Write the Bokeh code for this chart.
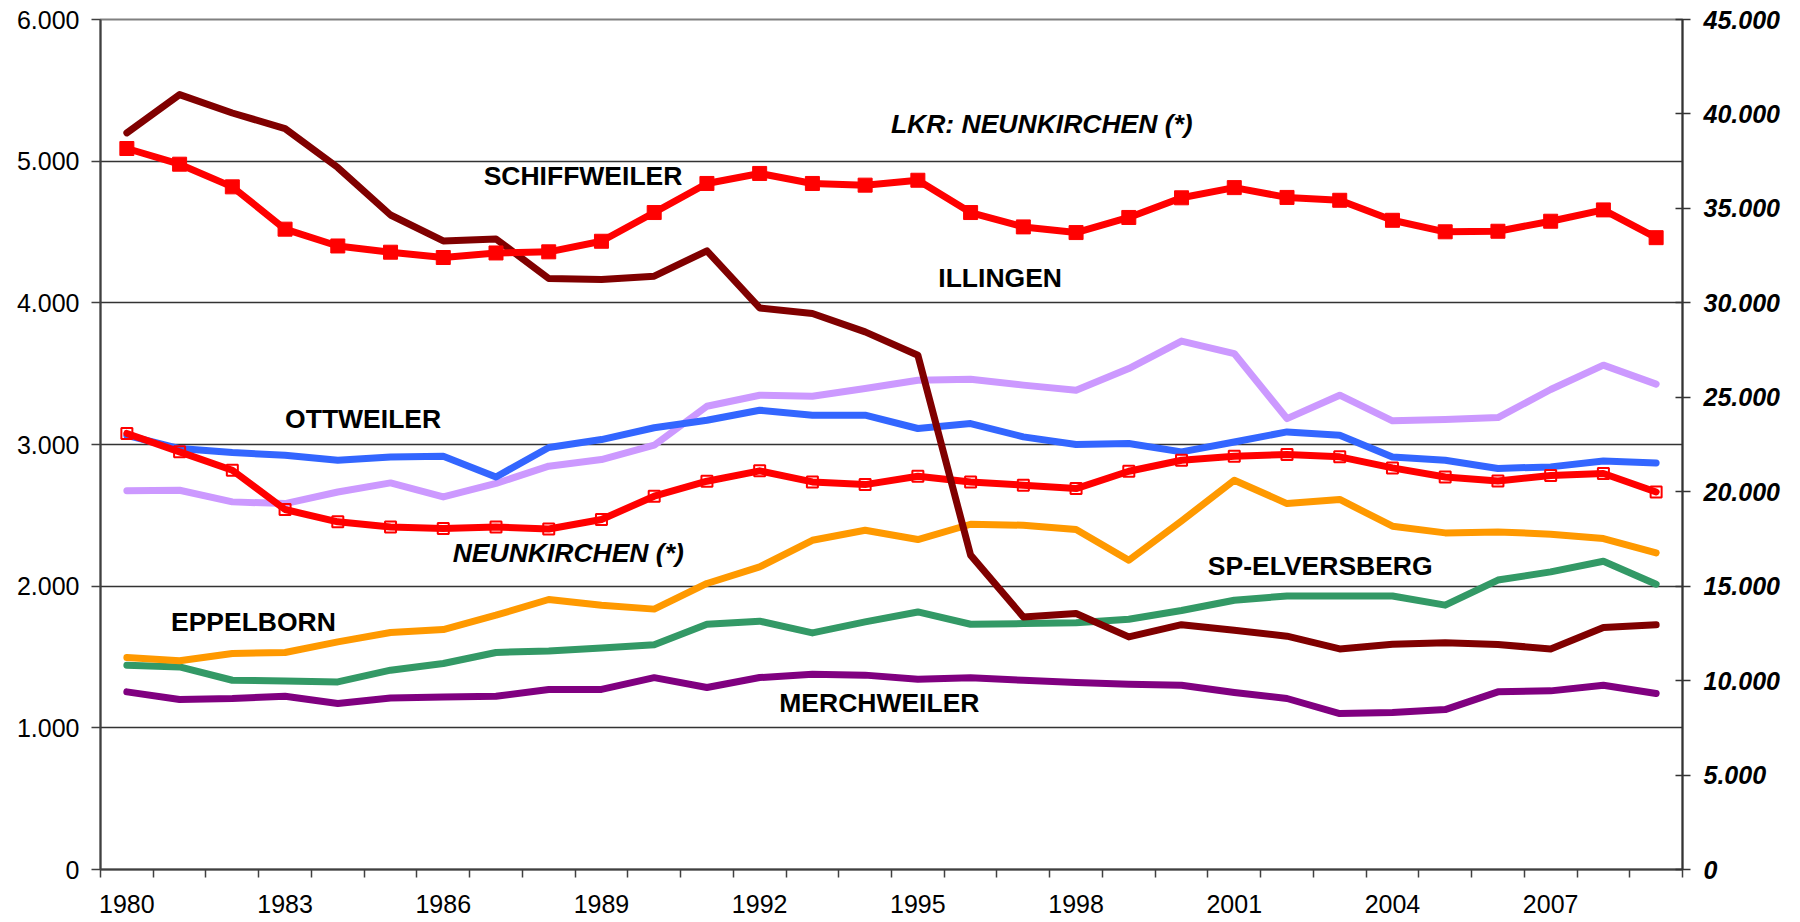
from bokeh.plotting import figure
from bokeh.models import Range1d, LinearAxis, FixedTicker, ColumnDataSource
from bokeh.core.properties import value
from bokeh.embed import file_html
from bokeh.resources import INLINE

years = list(range(1980, 2010))
label_years = [1980, 1983, 1986, 1989, 1992, 1995, 1998, 2001, 2004, 2007]

schiffweiler = [5200, 5470, 5340, 5230, 4955, 4620, 4437, 4451, 4172, 4164, 4188, 4367, 3964, 3925, 3795,
                3630, 2219, 1783, 1807, 1642, 1728, 1689, 1647, 1557, 1590, 1600, 1588, 1557, 1708, 1727]
lkr_neunkirchen = [38170, 37340, 36140, 33900, 33010, 32680, 32400, 32640, 32700, 33260, 34780, 36320, 36850,
                   36320, 36230, 36490, 34780, 34020, 33720, 34520, 35560, 36100, 35580, 35430, 34370, 33760,
                   33790, 34320, 34920, 33450]
neunkirchen = [3078, 2948, 2818, 2541, 2454, 2418, 2407, 2418, 2404, 2471, 2635, 2741, 2814, 2736, 2717,
               2776, 2736, 2713, 2689, 2811, 2889, 2917, 2929, 2913, 2835, 2771, 2743, 2781, 2795, 2665]
ottweiler = [3065, 2971, 2943, 2924, 2889, 2912, 2917, 2771, 2979, 3035, 3118, 3171, 3242, 3207, 3207,
             3113, 3148, 3054, 3000, 3007, 2948, 3018, 3089, 3066, 2912, 2889, 2831, 2842, 2884, 2870]
illingen = [2673, 2677, 2595, 2583, 2665, 2729, 2630, 2725, 2847, 2894, 2995, 3270, 3348, 3341, 3395,
            3454, 3461, 3419, 3383, 3536, 3730, 3642, 3183, 3348, 3167, 3176, 3190, 3388, 3560, 3426]
eppelborn = [1496, 1473, 1525, 1532, 1607, 1673, 1694, 1795, 1906, 1866, 1838, 2019, 2136, 2324, 2395,
             2329, 2437, 2430, 2400, 2183, 2460, 2748, 2583, 2612, 2423, 2376, 2383, 2367, 2336, 2235]
elversberg = [1442, 1430, 1336, 1331, 1324, 1407, 1454, 1532, 1543, 1564, 1586, 1731, 1753, 1670, 1748,
              1818, 1731, 1736, 1741, 1767, 1828, 1901, 1931, 1931, 1931, 1866, 2043, 2101, 2176, 2014]
merchweiler = [1254, 1200, 1207, 1223, 1172, 1211, 1218, 1223, 1271, 1271, 1354, 1285, 1355, 1379, 1372,
               1343, 1353, 1336, 1320, 1308, 1301, 1250, 1207, 1101, 1108, 1129, 1254, 1261, 1301, 1242]

left_ticks = [0, 1000, 2000, 3000, 4000, 5000, 6000]
left_tick_labels = ["0", "1.000", "2.000", "3.000", "4.000", "5.000", "6.000"]
right_ticks = [0, 5000, 10000, 15000, 20000, 25000, 30000, 35000, 40000, 45000]
right_tick_labels = ["0", "5.000", "10.000", "15.000", "20.000", "25.000", "30.000", "35.000", "40.000", "45.000"]

label_texts = ["LKR: NEUNKIRCHEN (*)", "SCHIFFWEILER", "ILLINGEN", "OTTWEILER", "NEUNKIRCHEN (*)",
               "EPPELBORN", "SP-ELVERSBERG", "MERCHWEILER"]
label_x = [1997.35, 1988.65, 1996.56, 1984.48, 1988.37, 1982.4, 2002.63, 1994.27]
label_y = [5262, 4892, 4172, 3177, 2237, 1747, 2140, 1172]
label_style = ["bold italic", "bold", "bold", "bold", "bold italic", "bold", "bold", "bold"]

FONT = "Liberation Sans"

p = figure(width=1800, height=922, x_range=Range1d(1979.5, 2009.5), y_range=Range1d(0, 6000),
           output_backend="svg", toolbar_location=None,
           min_border_left=100, min_border_right=118, min_border_top=19, min_border_bottom=53)
p.extra_y_ranges = {"right": Range1d(0, 45000)}
p.background_fill_color = "white"
p.outline_line_color = "#808080"
p.outline_line_width = 2

# grid
p.xgrid.grid_line_color = None
p.ygrid.ticker = FixedTicker(ticks=left_ticks[1:-1])
p.ygrid.grid_line_color = "#333333"
p.ygrid.grid_line_width = 1.3

# x axis
xa = p.xaxis[0]
xa.ticker = FixedTicker(ticks=label_years, minor_ticks=[y - 0.5 for y in years] + [years[-1] + 0.5])
xa.major_label_overrides = {y: str(y) for y in label_years}
xa.major_tick_out = 0
xa.major_tick_in = 0
xa.minor_tick_out = 8
xa.minor_tick_in = 0
xa.minor_tick_line_color = "#404040"
xa.minor_tick_line_width = 1.5
xa.axis_line_color = "#404040"
xa.axis_line_width = 2
xa.major_label_standoff = 17
xa.major_label_text_font = FONT
xa.major_label_text_font_size = "25px"
xa.major_label_text_color = "black"

# left y axis
ya = p.yaxis[0]
ya.ticker = FixedTicker(ticks=left_ticks)
ya.major_label_overrides = dict(zip(left_ticks, left_tick_labels))
ya.major_tick_out = 9
ya.major_tick_in = 0
ya.minor_tick_out = 0
ya.minor_tick_in = 0
ya.major_tick_line_color = "#404040"
ya.major_tick_line_width = 1.5
ya.axis_line_color = "#404040"
ya.axis_line_width = 2
ya.major_label_standoff = 12
ya.major_label_text_font = FONT
ya.major_label_text_font_size = "25px"
ya.major_label_text_color = "black"

# right y axis
ra = LinearAxis(y_range_name="right", ticker=FixedTicker(ticks=right_ticks))
ra.major_label_overrides = dict(zip(right_ticks, right_tick_labels))
ra.major_tick_out = 8
ra.major_tick_in = 7
ra.minor_tick_out = 0
ra.minor_tick_in = 0
ra.major_tick_line_color = "#333333"
ra.major_tick_line_width = 1.5
ra.axis_line_color = "#333333"
ra.axis_line_width = 2
ra.major_label_standoff = 13
ra.major_label_text_align = "left"
ra.major_label_text_font = FONT
ra.major_label_text_font_size = "25px"
ra.major_label_text_font_style = "bold italic"
ra.major_label_text_color = "black"
p.add_layout(ra, "right")

LW = 7
common = dict(line_width=LW, line_cap="round", line_join="round")
p.line(years, merchweiler, line_color="#800080", **common)
p.line(years, elversberg, line_color="#339966", **common)
p.line(years, eppelborn, line_color="#FF9900", **common)
p.line(years, illingen, line_color="#CC99FF", **common)
p.line(years, ottweiler, line_color="#3366FF", **common)
p.line(years, neunkirchen, line_color="#FF0000", **common)
p.scatter(years, neunkirchen, marker="square", size=11, line_color="#FF0000", line_width=2, fill_color=None)
p.line(years, schiffweiler, line_color="#800000", **common)
p.line(years, lkr_neunkirchen, line_color="#FF0000", y_range_name="right", **common)
p.scatter(years, lkr_neunkirchen, marker="square", size=14, color="#FF0000", y_range_name="right")

src = ColumnDataSource(dict(x=label_x, y=label_y, text=label_texts, style=label_style))
p.text(x="x", y="y", text="text", source=src, text_font=value(FONT), text_font_size="26.5px",
       text_font_style="style", text_align="center", text_baseline="middle", text_color="black")

open("out.html", "w").write(file_html(p, INLINE))
